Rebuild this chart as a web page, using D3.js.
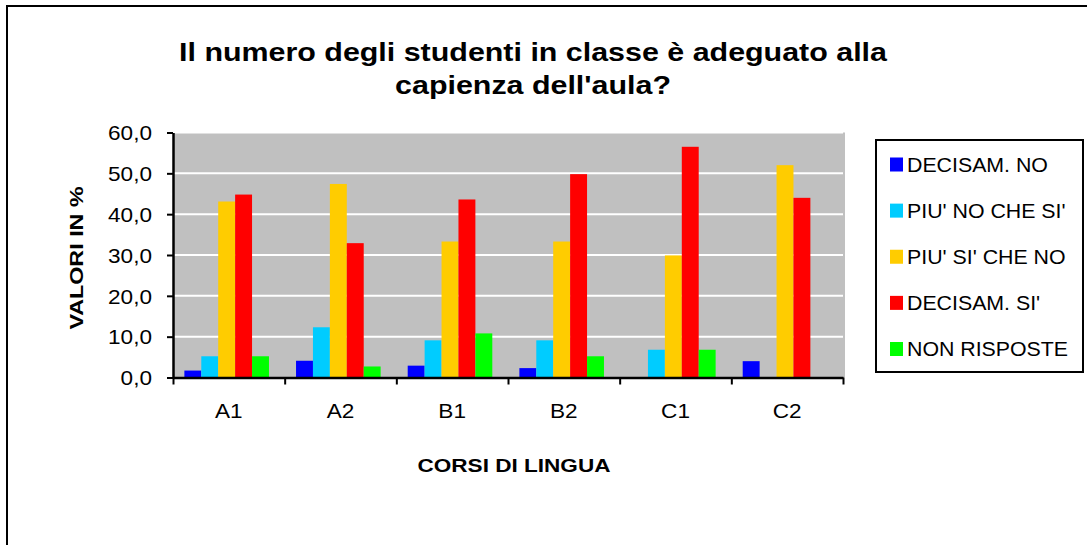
<!DOCTYPE html>
<html>
<head>
<meta charset="utf-8">
<script src="https://cdn.jsdelivr.net/npm/d3@7"></script>
<style>
  html, body { margin: 0; padding: 0; background: #fff; }
  svg { display: block; font-family: "Liberation Sans", Arial, sans-serif; }
</style>
</head>
<body>
<div id="chart"></div>
<script>
// values
const courses = ["A1", "A2", "B1", "B2", "C1", "C2"];
const seriesNames = ["DECISAM. NO", "PIU' NO CHE SI'", "PIU' SI' CHE NO", "DECISAM. SI'", "NON RISPOSTE"];
const seriesColors = ["#0000FF", "#00CCFF", "#FFCC00", "#FF0000", "#00FF00"];
const decisamNo   = [1.7, 4.1, 2.9, 2.3, 0.0, 4.0];
const piuNoCheSi  = [5.2, 12.3, 9.1, 9.1, 6.8, 0.0];
const piuSiCheNo  = [43.1, 47.4, 33.3, 33.3, 29.9, 52.0];
const decisamSi   = [44.8, 32.9, 43.6, 49.8, 56.5, 44.0];
const nonRisposte = [5.2, 2.7, 10.8, 5.2, 6.8, 0.0];
const yTicks = [0, 10, 20, 30, 40, 50, 60];

const allSeries = [decisamNo, piuNoCheSi, piuSiCheNo, decisamSi, nonRisposte];

const width = 1087, height = 545;
const plot = { left: 173, right: 843, top: 132.5, bottom: 377.5 };

const svg = d3.select("#chart").append("svg")
    .attr("width", width)
    .attr("height", height);

// outer frame (right and bottom edges fall outside the picture)
svg.append("rect")
    .attr("x", 7).attr("y", 6)
    .attr("width", 1200).attr("height", 700)
    .attr("fill", "#fff")
    .attr("stroke", "#000")
    .attr("stroke-width", 2);

const x = d3.scaleBand()
    .domain(courses)
    .range([plot.left, plot.right])
    .padding(0);

const xInner = d3.scaleBand()
    .domain(d3.range(seriesNames.length))
    .range([0, x.bandwidth()])
    .paddingInner(0)
    .paddingOuter(0.8)
    .align(0.42);

const y = d3.scaleLinear()
    .domain([0, 60])
    .range([plot.bottom, plot.top]);

// plot background
svg.append("rect")
    .attr("x", plot.left).attr("y", plot.top)
    .attr("width", plot.right - plot.left + 2)
    .attr("height", plot.bottom - plot.top)
    .attr("fill", "#C0C0C0");

// grid lines
svg.append("g")
    .selectAll("line")
    .data(yTicks.slice(1))
    .join("line")
        .attr("x1", plot.left).attr("x2", plot.right)
        .attr("y1", d => y(d)).attr("y2", d => y(d))
        .attr("stroke", "#fff")
        .attr("stroke-width", 2);

// bars
const groups = svg.append("g")
    .selectAll("g")
    .data(allSeries)
    .join("g")
        .attr("fill", (d, i) => seriesColors[i]);

groups.each(function(values, si) {
    d3.select(this).selectAll("rect")
        .data(values.map((v, ci) => ({ course: courses[ci], value: v })))
        .join("rect")
            .attr("x", d => x(d.course) + xInner(si))
            .attr("y", d => y(d.value))
            .attr("width", xInner.bandwidth())
            .attr("height", d => y(0) - y(d.value));
});

// y axis
const fmt = d => d3.format(".1f")(d).replace(".", ",");
const gY = svg.append("g")
    .attr("transform", `translate(${plot.left},0)`)
    .call(d3.axisLeft(y).tickValues(yTicks).tickSize(6).tickSizeOuter(0).tickFormat(fmt));
gY.select(".domain").attr("stroke-width", 2.5);
gY.selectAll(".tick line").attr("stroke-width", 2);
gY.selectAll(".tick text")
    .attr("x", 0)
    .attr("dy", "0.36em")
    .attr("font-size", 20)
    .attr("fill", "#000")
    .attr("transform", "translate(-21,0) scale(1.13,1)")
    .style("font-family", "Liberation Sans, Arial, sans-serif");

// x axis: tick marks at category boundaries, labels centered
const xEdges = d3.scaleLinear().domain([0, courses.length]).range([plot.left, plot.right]);
const gXTicks = svg.append("g")
    .attr("transform", `translate(0,${plot.bottom})`)
    .call(d3.axisBottom(xEdges).tickValues(d3.range(courses.length + 1)).tickSize(7).tickSizeOuter(0).tickFormat(""));
gXTicks.select(".domain").attr("stroke-width", 2.5);
gXTicks.selectAll(".tick line").attr("stroke-width", 2);

const gX = svg.append("g")
    .attr("transform", `translate(0,${plot.bottom})`)
    .call(d3.axisBottom(x).tickSize(0));
gX.select(".domain").remove();
gX.selectAll(".tick text")
    .attr("y", 0)
    .attr("dy", 0)
    .attr("font-size", 20)
    .attr("fill", "#000")
    .attr("transform", "translate(0,40) scale(1.13,1)")
    .style("font-family", "Liberation Sans, Arial, sans-serif");

// titles
function stretched(parent, tx, ty, sx, txt, size, weight, rotate) {
    return parent.append("text")
        .attr("transform", `translate(${tx},${ty})` + (rotate ? ` rotate(${rotate})` : "") + ` scale(${sx},1)`)
        .attr("text-anchor", "middle")
        .attr("font-size", size)
        .attr("font-weight", weight)
        .attr("fill", "#000")
        .text(txt);
}

stretched(svg, 533, 61, 1.17, "Il numero degli studenti in classe è adeguato alla", 26, "bold");
stretched(svg, 533, 94, 1.17, "capienza dell'aula?", 26, "bold");
stretched(svg, 514, 472, 1.22, "CORSI DI LINGUA", 18.5, "bold");
stretched(svg, 83, 258, 1.26, "VALORI IN %", 18.5, "bold", -90);

// legend
const legend = svg.append("g");
legend.append("rect")
    .attr("x", 876).attr("y", 140)
    .attr("width", 207).attr("height", 232)
    .attr("fill", "#fff")
    .attr("stroke", "#000")
    .attr("stroke-width", 2);

const ly = d3.scalePoint()
    .domain(seriesNames)
    .range([164.5, 349]);

const items = legend.selectAll("g.item")
    .data(seriesNames)
    .join("g")
        .attr("class", "item")
        .attr("transform", d => `translate(890,${ly(d)})`);

items.append("rect")
    .attr("x", 0).attr("y", -7)
    .attr("width", 13).attr("height", 14)
    .attr("fill", (d, i) => seriesColors[i]);

items.append("text")
    .attr("transform", "translate(17,7) scale(1.04,1)")
    .attr("font-size", 20.5)
    .attr("fill", "#000")
    .text(d => d);
</script>
</body>
</html>
